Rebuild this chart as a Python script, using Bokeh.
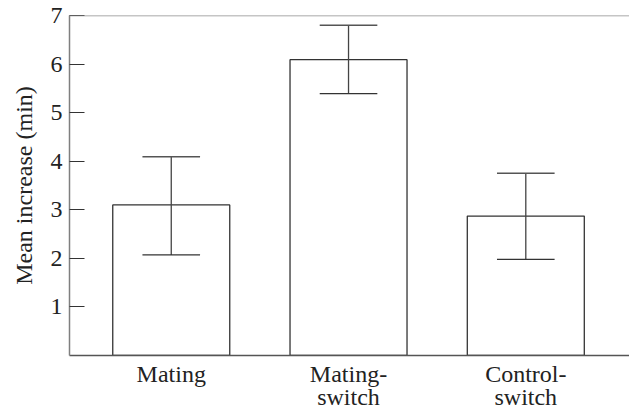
from bokeh.plotting import figure
from bokeh.models import FixedTicker, Range1d, Span, ColumnDataSource
from bokeh.embed import file_html
from bokeh.resources import INLINE

categories = ["Mating", "Mating-\nswitch", "Control-\nswitch"]
means = [3.10, 6.09, 2.87]
upper = [4.09, 6.80, 3.75]
lower = [2.07, 5.39, 1.98]
y_ticks = [1, 2, 3, 4, 5, 6, 7]

xs = list(range(len(categories)))
bar_w = 0.66
cap_w = 0.325

src = ColumnDataSource(dict(
    x=xs, top=means, up=upper, lo=lower,
    cl=[x - cap_w / 2 for x in xs], cr=[x + cap_w / 2 for x in xs],
))

FONT = "Liberation Serif"
FS = "24px"

p = figure(frame_width=560, frame_height=340, output_backend="svg", toolbar_location=None,
           x_range=Range1d(-0.574, 2.585), y_range=Range1d(0, 7),
           min_border_left=69, min_border_right=0, min_border_top=15, min_border_bottom=0)
p.outline_line_color = None
p.xgrid.visible = False
p.ygrid.visible = False

p.vbar(x="x", top="top", width=bar_w, bottom=0, source=src,
       fill_color="white", line_color="#333333", line_width=1.3)
p.segment(x0="x", x1="x", y0="lo", y1="up", source=src, line_color="#444444", line_width=1.3)
p.segment(x0="cl", x1="cr", y0="up", y1="up", source=src, line_color="#555555", line_width=1.5)
p.segment(x0="cl", x1="cr", y0="lo", y1="lo", source=src, line_color="#333333", line_width=1.3)

p.add_layout(Span(location=7, dimension="width", line_color="#8c8c8c", line_width=1.5))

ya = p.yaxis[0]
ya.ticker = FixedTicker(ticks=y_ticks)
ya.axis_line_color = "#7f7f7f"
ya.axis_line_width = 1.5
ya.major_tick_in = 15
ya.major_tick_out = 0
ya.major_tick_line_color = "#333333"
ya.major_tick_line_width = 1.2
ya.minor_tick_line_color = None
ya.major_label_standoff = 7
ya.major_label_text_font = FONT
ya.major_label_text_font_size = FS
ya.major_label_text_color = "#222222"
ya.axis_label = "Mean increase (min)"
ya.axis_label_text_font = FONT
ya.axis_label_text_font_size = FS
ya.axis_label_text_font_style = "normal"
ya.axis_label_text_color = "#222222"
ya.axis_label_standoff = 11

xa = p.xaxis[0]
xa.ticker = FixedTicker(ticks=xs)
xa.major_label_overrides = {x: c for x, c in zip(xs, categories)}
xa.axis_line_color = "#555555"
xa.axis_line_width = 1.5
xa.major_tick_in = 0
xa.major_tick_out = 0
xa.major_tick_line_color = None
xa.minor_tick_line_color = None
xa.major_label_standoff = 5
xa.major_label_text_font = FONT
xa.major_label_text_font_size = FS
xa.major_label_text_color = "#222222"
xa.major_label_text_line_height = 0.92

open("out.html", "w").write(file_html(p, INLINE))
